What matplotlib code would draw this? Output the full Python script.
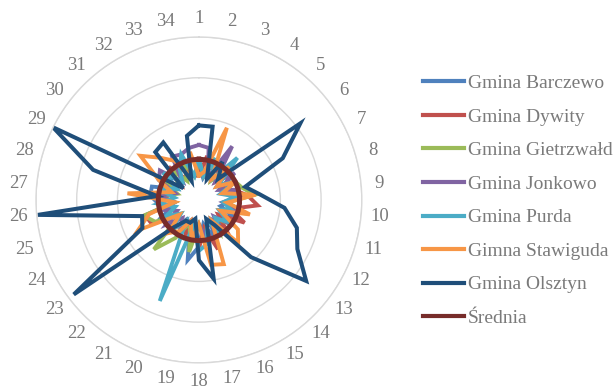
import numpy as np
import matplotlib
matplotlib.use("Agg")
import matplotlib.pyplot as plt

categories = [str(i) for i in range(1, 35)]

series_names = ["Gmina Barczewo", "Gmina Dywity", "Gmina Gietrzwałd", "Gmina Jonkowo",
                "Gmina Purda", "Gimna Stawiguda", "Gmina Olsztyn", "Średnia"]

barczewo = [0.9, 0.55, 1.0, 0.6, 1.1, 0.55, 0.9, 0.6, 1.1, 0.7, 0.55, 1.0, 0.6, 0.8, 0.55, 1.0, 0.6,
            1.15, 1.5, 0.6, 0.55, 1.0, 0.6, 1.1, 0.7, 1.0, 1.2, 1.2, 0.6, 1.0, 0.6, 1.1, 0.7, 0.6]
dywity = [0.6, 1.1, 0.55, 1.0, 0.6, 1.05, 0.6, 0.9, 1.2, 1.45, 0.8, 1.25, 0.6, 1.0, 0.65, 1.3, 0.7,
          1.2, 0.55, 0.9, 0.6, 1.0, 0.6, 1.3, 1.37, 0.6, 0.9, 0.6, 1.0, 0.55, 1.1, 0.6, 0.9, 0.6]
gietrzwald = [1.0, 0.6, 1.1, 0.55, 0.95, 0.6, 1.0, 1.1, 1.37, 0.7, 1.2, 0.6, 1.0, 0.6, 0.95, 0.55, 1.0,
              0.6, 1.3, 0.6, 1.1, 1.64, 0.6, 1.2, 1.41, 0.6, 1.0, 0.55, 0.9, 0.6, 1.0, 0.55, 1.0, 0.6]
jonkowo = [1.35, 1.3, 0.6, 1.55, 0.6, 1.1, 0.55, 0.9, 1.05, 0.6, 1.15, 0.6, 1.0, 0.55, 1.05, 0.6, 0.9,
           0.6, 1.0, 0.55, 0.9, 0.6, 1.0, 0.6, 0.9, 0.6, 1.0, 0.6, 1.1, 1.2, 0.6, 1.25, 1.2, 1.3]
purda = [1.0, 0.6, 1.1, 0.6, 1.4, 0.6, 1.0, 0.55, 0.9, 0.6, 0.8, 0.55, 0.9, 0.6, 1.0, 0.55, 1.1,
         1.25, 0.6, 2.66, 0.6, 1.0, 0.55, 0.9, 0.6, 1.0, 0.6, 1.05, 0.6, 1.1, 0.6, 0.9, 1.2, 0.6]
stawiguda = [0.6, 0.7, 1.9, 0.6, 1.1, 0.55, 1.0, 0.6, 1.4, 0.7, 1.3, 0.6, 1.2, 1.43, 0.6, 1.69, 1.62,
             0.6, 1.0, 0.55, 0.9, 1.1, 0.6, 1.67, 1.27, 0.6, 1.76, 0.7, 1.1, 1.8, 1.4, 1.13, 0.6, 1.2]
olsztyn = [1.83, 1.83, 0.55, 1.1, 0.7, 3.12, 2.3, 1.18, 1.5, 2.11, 2.5, 2.7, 3.3, 1.9, 0.72, 0.5, 1.97,
           1.48, 0.47, 0.6, 0.6, 0.9, 3.85, 1.55, 1.45, 3.97, 1.03, 2.7, 4.0, 0.48, 1.59, 1.66, 0.5, 1.6]
srednia = [1.0] * 34

all_series = [barczewo, dywity, gietrzwald, jonkowo, purda, stawiguda, olsztyn, srednia]
colors = ["#4F81BD", "#C0504D", "#9BBB59", "#8064A2", "#4BACC6", "#F79646", "#1F4E79", "#772C2A"]
widths = [2.8, 2.8, 2.8, 2.8, 2.8, 2.8, 2.9, 3.6]

r_grid = [1, 2, 3, 4]

fig = plt.figure(figsize=(6.16, 3.89), dpi=100)
ax = fig.add_axes([0.0584, 0.067, 0.529, 0.838], projection="polar")
ax.set_theta_zero_location("N")
ax.set_theta_direction(-1)

n = len(categories)
theta = np.linspace(0, 2 * np.pi, n, endpoint=False)
theta_c = np.concatenate([theta, theta[:1]])

for name, vals, c, lw in zip(series_names, all_series, colors, widths):
    v = np.concatenate([vals, vals[:1]])
    ax.plot(theta_c, v, color=c, lw=lw, label=name, solid_joinstyle="miter")

ax.set_ylim(0, 4)
ax.set_rgrids(r_grid, labels=[])
ax.yaxis.grid(True, color="#d9d9d9", lw=1.0)
ax.set_xticks(theta)
ax.set_xticklabels([])
ax.xaxis.grid(False)
ax.tick_params(length=0)
ax.spines["polar"].set_color("#d9d9d9")
ax.spines["polar"].set_linewidth(1.0)

for t, lab in zip(theta, categories):
    ax.text(t, 4.45, lab, ha="center", va="center", fontsize=13.5,
            family="Liberation Serif", color="#7a7a7a")

leg = fig.legend(loc="center left", bbox_to_anchor=(423 / 616, 0.484), frameon=False,
                 prop={"family": "Liberation Serif", "size": 14}, handlelength=2.1,
                 handletextpad=0.2, labelspacing=0.82, borderpad=0, borderaxespad=0)
for t in leg.get_texts():
    t.set_color("#7a7a7a")
for l in leg.get_lines():
    l.set_linewidth(3.0)

fig.savefig("out.png", dpi=100)
